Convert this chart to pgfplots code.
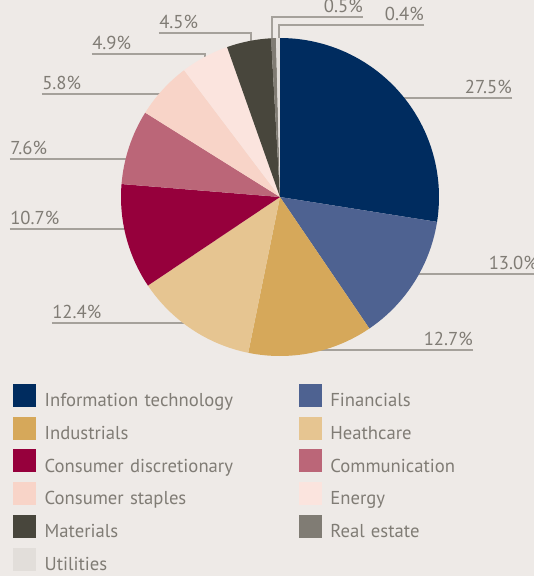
\documentclass[border=0pt]{standalone}
\usepackage{pgfplots}
\pgfplotsset{compat=1.18}
\usepackage{pgfplotstable}
\usepackage{fontspec}
\setmainfont{PT Sans}

\definecolor{bgcol}{RGB}{238,234,231}
\definecolor{txtgrey}{RGB}{128,124,117}
\definecolor{linegrey}{RGB}{165,161,155}
\definecolor{cIT}{HTML}{002C5F}
\definecolor{cFin}{HTML}{4E6291}
\definecolor{cInd}{HTML}{D6A85A}
\definecolor{cHea}{HTML}{E6C591}
\definecolor{cCD}{HTML}{96003C}
\definecolor{cCom}{HTML}{BB6678}
\definecolor{cCS}{HTML}{F8D4C8}
\definecolor{cEn}{HTML}{FBE4DE}
\definecolor{cMat}{HTML}{48463C}
\definecolor{cRE}{HTML}{807C74}
\definecolor{cUt}{HTML}{E2DEDA}

\tikzset{
  pct/.style={inner sep=0pt, text=txtgrey, font=\fontsize{14}{16}\selectfont},
  leader/.style={draw=linegrey, line width=1.1pt},
}

% share (%), colour, label anchor (lx,ly), leader end x, leader end y, text side
\pgfplotstableread{
share col  lx    ly    ex    vy    side
27.5  cIT  232   99    100   99    east
13.0  cFin 258   -77   120   -77   east
12.7  cInd 193   -153  20    -153  east
12.4  cHea -228  -126  -80   -126  west
10.7  cCD  -270  -32   -120  -32   west
7.6   cCom -270  38    -120  38    west
5.8   cCS  -238  103   -105  103   west
4.9   cEn  -188  143   -75   127   west
4.5   cMat -121  164   -29   147   west
0.5   cRE  83    180   -8    147   east
0.4   cUt  144   172   -1    147   east
}\sectors

\begin{document}
\begin{tikzpicture}
\fill[bgcol] (0,0) rectangle (400.5pt,-432pt);
\path[use as bounding box] (0,0) rectangle (400.5pt,-432pt);
\begin{axis}[
  hide axis, clip=false,
  anchor=origin, at={(210pt,-147.75pt)},
  x=0.75pt, y=0.75pt,
  xmin=-159, xmax=159, ymin=-159, ymax=159,
  legend image code/.code={\fill[#1, draw=none] (0pt,-3.7pt) rectangle (17.25pt,13.5pt);},
  legend columns=2,
  legend cell align=left,
  legend style={
    at={(-0.3396,-0.088)}, anchor=north west,
    draw=none, fill=none, inner sep=0pt, outer sep=0pt,
    column sep=0pt, row sep=4.55pt,
    font=\fontsize{14}{16}\selectfont,
    nodes={inner xsep=6.5pt, inner ysep=0pt, text width=184pt, align=left,
           text height=10pt, text depth=3pt, text=txtgrey},
  },
]
\pgfplotstablegetrowsof{\sectors}
\pgfmathtruncatemacro\last{\pgfplotsretval-1}
% leader lines first, the pie covers their inner ends
\pgfplotsforeachungrouped \i in {0,...,\last}{%
  \pgfplotstablegetelem{\i}{lx}\of\sectors \let\lx\pgfplotsretval
  \pgfplotstablegetelem{\i}{ly}\of\sectors \let\ly\pgfplotsretval
  \pgfplotstablegetelem{\i}{ex}\of\sectors \let\ex\pgfplotsretval
  \pgfplotstablegetelem{\i}{vy}\of\sectors \let\vy\pgfplotsretval
  \edef\temp{\noexpand\draw[leader] (axis cs:\lx,\ly) -- (axis cs:\ex,\ly) -- (axis cs:\ex,\vy);}%
  \temp
}
% sectors, clockwise from the top
\def\startang{90}
\pgfplotsforeachungrouped \i in {0,...,\last}{%
  \pgfplotstablegetelem{\i}{share}\of\sectors \let\share\pgfplotsretval
  \pgfplotstablegetelem{\i}{col}\of\sectors \let\col\pgfplotsretval
  \pgfmathsetmacro\endang{\startang-3.6*\share}%
  \edef\temp{\noexpand\fill[\col] (axis cs:0,0) -- (axis cs:{159*cos(\startang)},{159*sin(\startang)})
    arc[start angle=\startang, end angle=\endang, radius=119.25pt] -- cycle;}%
  \temp
  \let\startang\endang
}
% percentage labels
\pgfplotsforeachungrouped \i in {0,...,\last}{%
  \pgfplotstablegetelem{\i}{share}\of\sectors \let\share\pgfplotsretval
  \pgfplotstablegetelem{\i}{lx}\of\sectors \let\lx\pgfplotsretval
  \pgfplotstablegetelem{\i}{ly}\of\sectors \let\ly\pgfplotsretval
  \pgfplotstablegetelem{\i}{side}\of\sectors \let\side\pgfplotsretval
  \edef\temp{\noexpand\node[pct, anchor=base \side] at (axis cs:\lx,{\ly+4.5})
    {\noexpand\pgfmathprintnumber[fixed,fixed zerofill,precision=1,assume math mode=true]{\share}\noexpand\%};}%
  \temp
}
\addlegendimage{fill=cIT}\addlegendentry{Information technology}
\addlegendimage{fill=cFin}\addlegendentry{Financials}
\addlegendimage{fill=cInd}\addlegendentry{Industrials}
\addlegendimage{fill=cHea}\addlegendentry{Heathcare}
\addlegendimage{fill=cCD}\addlegendentry{Consumer discretionary}
\addlegendimage{fill=cCom}\addlegendentry{Communication}
\addlegendimage{fill=cCS}\addlegendentry{Consumer staples}
\addlegendimage{fill=cEn}\addlegendentry{Energy}
\addlegendimage{fill=cMat}\addlegendentry{Materials}
\addlegendimage{fill=cRE}\addlegendentry{Real estate}
\addlegendimage{fill=cUt}\addlegendentry{Utilities}
\end{axis}
\end{tikzpicture}
\end{document}
